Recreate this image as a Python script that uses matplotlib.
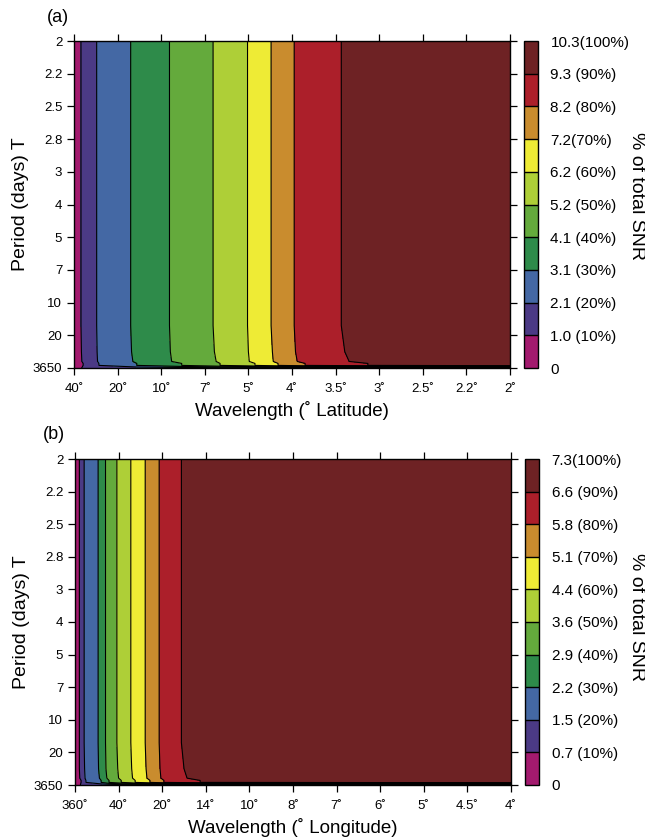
import numpy as np
import matplotlib.pyplot as plt

plt.rcParams['font.family'] = ['Liberation Sans', 'DejaVu Sans']

# band colours, low -> high
band_colors = ["#A31A6E", "#4B3A85", "#4468A4", "#2E8B4A", "#64AA3C",
               "#AECF37", "#EEEB35", "#C98C2E", "#AC1F2A", "#6E2224"]

period_labels = ["2", "2.2", "2.5", "2.8", "3", "4", "5", "7", "10", "20", "3650"]
lat_labels = ["40", "20", "10", "7", "5", "4", "3.5", "3", "2.5", "2.2", "2"]
lon_labels = ["360", "40", "20", "14", "10", "8", "7", "6", "5", "4.5", "4"]

# cumulative SNR levels (colorbar)
levels_a = [0, 1.0, 2.1, 3.1, 4.1, 5.2, 6.2, 7.2, 8.2, 9.3, 10.3]
cb_labels_a = ["0", "1.0 (10%)", "2.1 (20%)", "3.1 (30%)", "4.1 (40%)", "5.2 (50%)",
               "6.2 (60%)", "7.2(70%)", "8.2 (80%)", "9.3 (90%)", "10.3(100%)"]
levels_b = [0, 0.7, 1.5, 2.2, 2.9, 3.6, 4.4, 5.1, 5.8, 6.6, 7.3]
cb_labels_b = ["0", "0.7 (10%)", "1.5 (20%)", "2.2 (30%)", "2.9 (40%)", "3.6 (50%)",
               "4.4 (60%)", "5.1 (70%)", "5.8 (80%)", "6.6 (90%)", "7.3(100%)"]

# period-axis positions of the rows
rows_a = [0, 8.7, 9.5, 9.8, 9.86, 9.92, 10]
rows_b = [0, 8.7, 9.5, 9.79, 9.86, 9.92, 10]

# wavelength-axis position where each level is reached, per row
cross_a_top = [0, 0.16, 0.52, 1.30, 2.19, 3.19, 3.98, 4.52, 5.05, 6.13, 10]
cross_a_mid = [0, 0.17, 0.53, 1.32, 2.21, 3.22, 4.00, 4.55, 5.08, 6.21, 10]
cross_a_bend = [0, 0.18, 0.54, 1.35, 2.24, 3.26, 4.02, 4.57, 5.12, 6.31, 10]
cross_a_step = [0, 0.21, 0.57, 1.44, 2.47, 3.35, 4.15, 4.68, 5.30, 6.74, 10]
floor_a = [0, 1.2, 1.4, 1.5, 1.6, 1.7, 1.8, 1.9, 2.0, 2.0, 2.0]

cross_b_top = [0, 0.10, 0.21, 0.53, 0.70, 0.96, 1.28, 1.61, 1.93, 2.44, 10]
cross_b_mid = [0, 0.10, 0.22, 0.54, 0.71, 0.98, 1.30, 1.63, 1.95, 2.50, 10]
cross_b_bend = [0, 0.11, 0.23, 0.56, 0.73, 1.00, 1.32, 1.65, 1.97, 2.57, 10]
cross_b_step = [0, 0.14, 0.25, 0.60, 0.78, 1.06, 1.38, 1.72, 2.04, 2.87, 10]
floor_b = [0, 0.8, 0.9, 1.0, 1.0, 1.1, 1.1, 1.2, 1.2, 1.2, 1.2]

deg = "\u02da"


def panel(ax, cax, rows, top, mid, bend, step, floor, levels, xlabels, xtitle, cblabels):
    X = np.array([top, top, mid, bend, step, step, step], dtype=float)
    Y = np.repeat(np.array(rows, dtype=float)[:, None], X.shape[1], axis=1)
    Z = np.array([levels] * 6 + [floor], dtype=float)
    cf = ax.contourf(X, Y, Z, levels=levels, colors=band_colors)
    ax.contour(X, Y, Z, levels=levels[1:-1], colors="k", linewidths=0.8)
    ax.set_xlim(0, 10)
    ax.set_ylim(10, 0)
    ax.set_xticks(range(11))
    ax.set_xticklabels([s + deg for s in xlabels])
    ax.set_yticks(range(11))
    ax.set_yticklabels(period_labels)
    ax.tick_params(direction="out", length=5, width=0.9, top=True, right=True,
                   labelsize=9.5, pad=3.5)
    ax.tick_params(axis="x", pad=6)
    for s in ax.spines.values():
        s.set_linewidth(1.0)
    ax.set_xlabel(xtitle, fontsize=13.5, labelpad=4)
    ax.set_ylabel("Period (days) T", fontsize=14, labelpad=3)

    cb = plt.colorbar(cf, cax=cax, ticks=levels, drawedges=True)
    cb.ax.set_yticklabels(cblabels)
    cb.ax.tick_params(length=0, pad=9, labelsize=11)
    cb.outline.set_linewidth(1.0)
    cb.dividers.set_color("k")
    cb.dividers.set_linewidth(1.0)


fig = plt.figure(figsize=(6.45, 8.39), dpi=100)
ax_a = fig.add_axes([74/645, 1-368/839, 436/645, 327/839])
cax_a = fig.add_axes([524/645, 1-368/839, 14/645, 327/839])
ax_b = fig.add_axes([75/645, 1-785/839, 436/645, 326/839])
cax_b = fig.add_axes([525/645, 1-785/839, 14/645, 326/839])

panel(ax_a, cax_a, rows_a, cross_a_top, cross_a_mid, cross_a_bend, cross_a_step, floor_a,
      levels_a, lat_labels, "Wavelength (" + deg + " Latitude)", cb_labels_a)
panel(ax_b, cax_b, rows_b, cross_b_top, cross_b_mid, cross_b_bend, cross_b_step, floor_b,
      levels_b, lon_labels, "Wavelength (" + deg + " Longitude)", cb_labels_b)

fig.text(47/645, 1-17/839, "(a)", fontsize=13, ha="left", va="center")
fig.text(43/645, 1-434/839, "(b)", fontsize=13, ha="left", va="center")
fig.text(636/645, 1-196/839, "% of total SNR", fontsize=14, rotation=270,
         ha="center", va="center")
fig.text(637/645, 1-617/839, "% of total SNR", fontsize=14, rotation=270,
         ha="center", va="center")

fig.savefig("out.png", dpi=100)
